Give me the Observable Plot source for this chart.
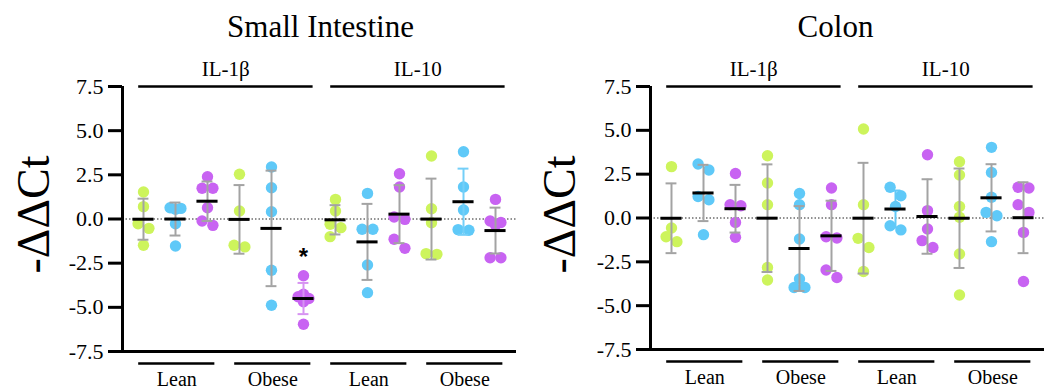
<!DOCTYPE html>
<html><head><meta charset="utf-8">
<script src="https://cdn.jsdelivr.net/npm/d3@7"></script>
<script src="https://cdn.jsdelivr.net/npm/@observablehq/plot@0.6"></script>
<style>
html,body{margin:0;padding:0;background:#fff;}
#chart{display:flex;width:1052px;height:390px;overflow:hidden;}
#chart svg text{font-family:'Liberation Serif','Times New Roman',serif;}
#chart svg text.sans{font-family:'Liberation Sans',Arial,sans-serif;}
</style></head><body><div id="chart"></div>
<script>
// ---------- data ----------
const panels = ["Small Intestine", "Colon"];
const cytokines = ["IL-1β", "IL-10"];
const groups = ["Lean", "Obese"];
const series = ["Series 1", "Series 2", "Series 3"];
const yTicks = [-7.5, -5, -2.5, 0, 2.5, 5, 7.5];
const yLabel = "-ΔΔCt";

// each array: [series 1 values, series 2 values, series 3 values]
const siIL1bLean  = [[1.53, 0.70, -0.27, -0.53, -1.49], [0.64, 0.60, 0.55, -0.27, -1.53], [2.39, 1.74, 1.74, 0.64, -0.11, -0.36]];
const siIL1bObese = [[2.53, 0.45, -1.49, -1.58], [2.94, 1.77, 0.41, -2.90, -4.88], [-3.21, -4.26, -4.40, -4.50, -4.68, -5.96]];
const siIL10Lean  = [[1.11, 0.45, -0.30, -0.49, -1.00], [1.45, -0.58, -0.58, -2.60, -4.17], [2.56, 1.81, 0.11, -0.02, -1.15, -1.66]];
const siIL10Obese = [[3.57, 0.58, -0.21, -1.96, -2.00], [3.81, 1.81, 0.51, -0.60, -0.64], [1.11, -0.11, -0.20, -0.35, -2.19, -2.19]];
const coIL1bLean  = [[2.93, -0.57, -1.07, -1.35], [3.08, 2.74, 1.23, 1.04, -0.95], [2.54, 0.76, 0.70, -0.25, -1.10]];
const coIL1bObese = [[3.55, 2.00, 0.76, -2.82, -3.54], [1.40, 0.76, -1.20, -3.48, -3.96, -3.96], [1.71, 0.76, -1.07, -1.14, -2.97, -3.39]];
const coIL10Lean  = [[5.08, 0.76, -1.16, -1.68, -3.05], [1.75, 1.27, 0.66, -0.44, -0.68], [3.61, 0.42, -0.63, -1.29, -1.68]];
const coIL10Obese = [[3.21, 2.45, 0.66, 0.04, -2.05, -4.39], [4.03, 2.60, 1.18, 0.32, 0.13, -1.35], [1.75, 1.71, 0.76, 0.32, -0.82, -3.62]];

const significance = [{panel: "Small Intestine", cytokine: "IL-1β", group: "Obese", series: "Series 3", label: "*"}];

const values = {
  "Small Intestine": {"IL-1β": {Lean: siIL1bLean, Obese: siIL1bObese}, "IL-10": {Lean: siIL10Lean, Obese: siIL10Obese}},
  "Colon": {"IL-1β": {Lean: coIL1bLean, Obese: coIL1bObese}, "IL-10": {Lean: coIL10Lean, Obese: coIL10Obese}}
};

// ---------- style ----------
const seriesColors = ["#cdf45c", "#5fc9f8", "#c863f2"];
const errGray = "#a3a3a3";
const tintedBars = {
  "Small Intestine|IL-1β|Obese|Series 3": "#d793f2",
  "Small Intestine|IL-10|Obese|Series 2": "#74cff8",
  "Colon|IL-10|Lean|Series 2": "#62c9f7"
};
const serif = "'Liberation Serif', 'Times New Roman', serif";
const W = 526, H = 390;
const xDomain = [-0.656, 11.656];
const layout = {
  "Small Intestine": {marginLeft: 122, marginRight: 10, marginTop: 86, marginBottom: 39, titleX: 320, labelX: 34},
  "Colon": {marginLeft: 124, marginRight: 8, marginTop: 86, marginBottom: 41, titleX: 309, labelX: 34}
};
const R = 5.7, S = 5.4, D = 10.8, T = 10;
const TICK = 14, PAD = 5;

function swarm(vals, yPx) {
  const idx = vals.map((v, i) => i).sort((a, b) => vals[b] - vals[a]);
  const off = new Array(vals.length).fill(0);
  const py = i => -vals[i] * yPx;
  const placed = [];
  let k = 0;
  while (k < idx.length) {
    const i = idx[k], j = idx[k + 1], l = idx[k + 2];
    const d1 = j !== undefined ? Math.abs(py(i) - py(j)) : Infinity;
    const d2 = l !== undefined ? Math.abs(py(j) - py(l)) : Infinity;
    if (d1 < T && !(d2 < d1)) {
      off[i] = -S; off[j] = S; placed.push(i, j); k += 2;
    } else {
      let best = 0, bestD = -1;
      for (const o of [0, -S, S]) {
        const md = Math.min(Infinity, ...placed.map(p => Math.hypot(o - off[p], py(i) - py(p))));
        if (md >= D) { best = o; break; }
        if (md > bestD) { bestD = md; best = o; }
      }
      off[i] = best; placed.push(i); k++;
    }
  }
  return off;
}

function makePanel(panel) {
  const L = layout[panel];
  const yPx = (H - L.marginTop - L.marginBottom) / 15;
  const xPx = (W - L.marginLeft - L.marginRight) / (xDomain[1] - xDomain[0]);
  const pts = [], sums = [];
  cytokines.forEach((cy, ci) => groups.forEach((g, gi) => series.forEach((s, si) => {
    const vals = values[panel][cy][g][si];
    const col = ci * 6 + gi * 3 + si;
    const off = swarm(vals, yPx);
    vals.forEach((v, k) => pts.push({panel, cytokine: cy, group: g, series: s, col, value: v, off: off[k]}));
    sums.push({key: [panel, cy, g, s].join("|"), panel, cytokine: cy, group: g, series: s, col,
      mean: d3.mean(vals), sd: d3.deviation(vals), max: d3.max(vals)});
  })));
  const subgroups = [];
  cytokines.forEach((cy, ci) => groups.forEach((g, gi) => subgroups.push({cytokine: cy, group: g, mid: ci * 6 + gi * 3 + 1.04})));
  const sig = significance.filter(d => d.panel === panel).map(d => {
    const s = sums.find(u => u.cytokine === d.cytokine && u.group === d.group && u.series === d.series);
    return {...d, col: s.col, max: s.max};
  });

  const at = (text, ax, ay, opts) => Plot.text([text], {frameAnchor: "top-left", text: d => d,
    dx: ax - L.marginLeft, dy: ay - L.marginTop, fontFamily: serif, ...opts});

  const errMarks = (data, stroke) => [
    Plot.ruleX(data, {x: "col", y1: d => d.mean - d.sd, y2: d => d.mean + d.sd, stroke, strokeWidth: 2}),
    Plot.ruleY(data, {y: d => d.mean + d.sd, x1: d => d.col - 0.17, x2: d => d.col + 0.17, stroke, strokeWidth: 2}),
    Plot.ruleY(data, {y: d => d.mean - d.sd, x1: d => d.col - 0.17, x2: d => d.col + 0.17, stroke, strokeWidth: 2})
  ];

  const svg = Plot.plot({
    width: W, height: H,
    marginLeft: L.marginLeft, marginRight: L.marginRight, marginTop: L.marginTop, marginBottom: L.marginBottom,
    style: {fontFamily: serif, fontSize: "20px", background: "white", color: "black", overflow: "visible"},
    x: {type: "linear", domain: xDomain, axis: null},
    y: {domain: [-7.5, 7.5], axis: null},
    color: {domain: series, range: seriesColors},
    marks: [
      Plot.ruleY([0], {stroke: "#222", strokeWidth: 1, strokeDasharray: "1.5,2"}),
      Plot.dot(pts, {x: d => d.col + d.off / xPx, y: "value", r: R, fill: "series", stroke: "none"}),
      ...errMarks(sums.filter(d => !tintedBars[d.key]), errGray),
      ...sums.filter(d => tintedBars[d.key]).flatMap(d => errMarks([d], tintedBars[d.key])),
      Plot.ruleY(sums, {y: "mean", x1: d => d.col - 0.33, x2: d => d.col + 0.33, stroke: "black", strokeWidth: 3}),
      // axes
      Plot.ruleX([xDomain[0]], {stroke: "black", strokeWidth: 3}),
      Plot.ruleY([-7.5], {stroke: "black", strokeWidth: 3}),
      Plot.ruleY(yTicks, {y: d => d, x1: xDomain[0] - TICK / xPx, x2: xDomain[0], stroke: "black", strokeWidth: 3}),
      Plot.text(yTicks, {x: xDomain[0], y: d => d, dx: -(TICK + PAD), text: d => d.toFixed(1), textAnchor: "end",
        lineAnchor: "middle", fontSize: 22, fontFamily: serif}),
      // cytokine brackets
      Plot.ruleY(cytokines, {y: 7.5, x1: (d, i) => i * 6 - 0.15, x2: (d, i) => i * 6 + 5.3, stroke: "black", strokeWidth: 2.5}),
      Plot.text(cytokines, {x: (d, i) => i * 6 + 2.57, y: 7.5, dy: -11, text: d => d, lineAnchor: "bottom", fontSize: 21, fontFamily: serif}),
      // group brackets
      Plot.ruleY(subgroups, {y: -7.5, dy: 12, x1: d => d.mid - 1.19, x2: d => d.mid + 1.19, stroke: "black", strokeWidth: 2.5}),
      Plot.text(subgroups, {x: "mid", y: -7.5, dy: 34, text: "group", lineAnchor: "bottom", fontSize: 20, fontFamily: serif}),
      // significance
      Plot.text(sig, {x: "col", y: "max", dy: -18, text: "label", fontFamily: "'Liberation Sans', Arial, sans-serif",
        fontWeight: "bold", fontSize: 24, lineAnchor: "middle"}),
      // title & y label
      at(panel, L.titleX, 36, {textAnchor: "middle", lineAnchor: "bottom", fontSize: 31}),
      at(yLabel, L.labelX, 214, {textAnchor: "middle", lineAnchor: "middle", rotate: -90, fontSize: 46})
    ]
  });
  svg.querySelectorAll("text").forEach(t => {
    if (t.textContent.trim() === "*") t.setAttribute("class", "sans");
  });
  return svg;
}

const chart = document.getElementById("chart");
panels.forEach(p => chart.appendChild(makePanel(p)));
</script></body></html>
